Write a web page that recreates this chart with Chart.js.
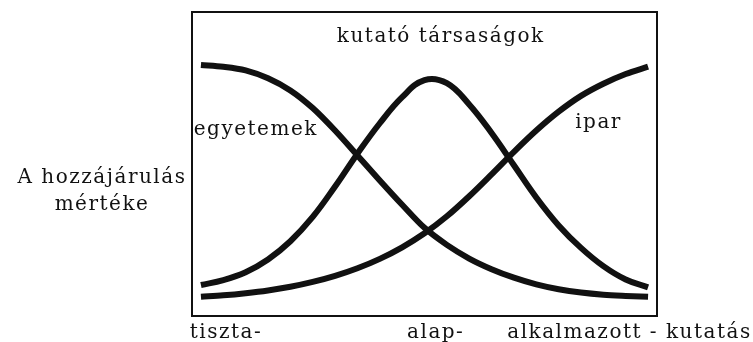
<!DOCTYPE html>
<html lang="hu">
<head>
<meta charset="utf-8">
<title>A hozzájárulás mértéke</title>
<script src="https://cdn.jsdelivr.net/npm/chart.js@4.4.0/dist/chart.umd.min.js"></script>
<style>
    html, body { margin: 0; padding: 0; background: #fff; }
    #wrap { width: 753px; height: 342px; }
</style>
</head>
<body>
<div id="wrap"><canvas id="chart" width="753" height="342"></canvas></div>
<script>
// Position along the research spectrum (0 = pure research, 100 = applied)
const researchPos = [0, 5, 10, 15, 20, 25, 30, 35, 40, 45, 50, 55, 60, 65, 70, 75, 80, 85, 90, 95, 100];

// Contribution of each actor (0 - 100)
const egyetemek = [82.6, 82.0, 80.8, 78.2, 74.2, 68.4, 61.0, 52.8, 44.6, 36.6, 29.0, 23.4, 18.9, 15.4, 12.6, 10.4, 8.8, 7.7, 7.0, 6.6, 6.3];
const kutatoTarsasagok = [10.2, 11.8, 14.4, 18.6, 24.6, 32.6, 42.6, 53.4, 63.4, 72.0, 77.6, 76.6, 69.6, 60.2, 49.6, 39.0, 29.8, 22.4, 16.4, 12.0, 9.4];
const ipar = [6.3, 6.8, 7.5, 8.4, 9.6, 11.2, 13.2, 15.7, 18.8, 22.6, 27.2, 32.8, 39.4, 46.6, 54.0, 61.0, 67.2, 72.4, 76.4, 79.6, 82.0];

// Text
const seriesNames = ['egyetemek', 'kutató társaságok', 'ipar'];
const axisLabels = ['tiszta-', 'alap-', 'alkalmazott - kutatás'];
const yTitle = ['A hozzájárulás', 'mértéke'];

// Where the texts sit, in chart units
const seriesLabelAt = [[-1.6, 59.5], [30.4, 90.1], [83.7, 61.8]];
const axisLabelAt = [-2.5, 46.1, 68.5];

const INK = '#111';
const FONT = '20px "DejaVu Serif", serif';

const toPoints = values => values.map((v, i) => ({ x: researchPos[i], y: v }));

const curve = (label, values, smooth) => ({
    label: label,
    data: toPoints(values),
    borderColor: INK,
    borderWidth: 6,
    borderCapStyle: 'butt',
    pointRadius: 0,
    cubicInterpolationMode: smooth ? 'default' : 'monotone',
    tension: 0.4,
    fill: false
});

// Frame and hand-set texts of the diagram
const diagramText = {
    id: 'diagramText',
    afterDraw: function(chart) {
        const { ctx, chartArea } = chart;
        const xs = chart.scales.x;
        const ys = chart.scales.y;

        ctx.save();
        ctx.strokeStyle = INK;
        ctx.lineWidth = 2;
        ctx.strokeRect(chartArea.left, chartArea.top, chartArea.width, chartArea.height);

        ctx.font = FONT;
        ctx.fillStyle = INK;
        ctx.letterSpacing = '1.5px';
        ctx.textBaseline = 'alphabetic';
        ctx.textAlign = 'left';

        seriesNames.forEach((name, i) => {
            ctx.fillText(name, xs.getPixelForValue(seriesLabelAt[i][0]), ys.getPixelForValue(seriesLabelAt[i][1]));
        });

        axisLabels.forEach((text, i) => {
            ctx.fillText(text, xs.getPixelForValue(axisLabelAt[i]), chartArea.bottom + 22);
        });

        ctx.textAlign = 'center';
        yTitle.forEach((text, i) => {
            ctx.fillText(text, 102, 183 + i * 27);
        });
        ctx.restore();
    }
};

new Chart(document.getElementById('chart'), {
    type: 'line',
    data: {
        datasets: [
            curve(seriesNames[0], egyetemek, false),
            curve(seriesNames[1], kutatoTarsasagok, true),
            curve(seriesNames[2], ipar, false)
        ]
    },
    options: {
        responsive: false,
        animation: false,
        layout: {
            padding: { left: 192, top: 12, right: 96, bottom: 26 }
        },
        plugins: {
            legend: { display: false },
            tooltip: { enabled: false }
        },
        scales: {
            x: { type: 'linear', min: -2, max: 102, display: false },
            y: { min: 0, max: 100, display: false }
        }
    },
    plugins: [diagramText]
});
</script>
</body>
</html>
